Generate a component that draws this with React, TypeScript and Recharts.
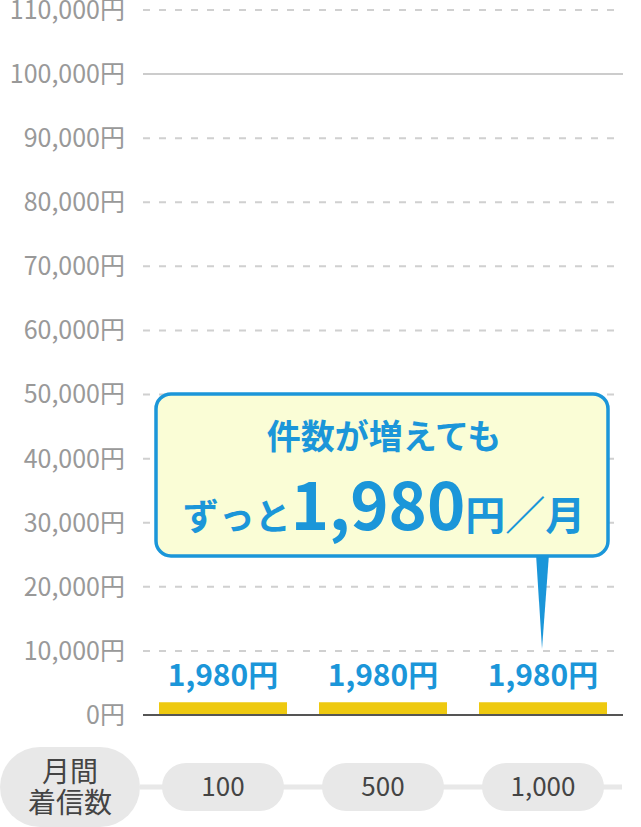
import React from 'react';
import { BarChart, Bar, XAxis, YAxis, CartesianGrid, ReferenceLine, ReferenceDot } from 'recharts';

const categories = ['100', '500', '1,000'];
const prices = [1980, 1980, 1980];
const yTicks = [0, 10000, 20000, 30000, 40000, 50000, 60000, 70000, 80000, 90000, 100000, 110000];
const calloutLine1 = '件数が増えても';
const calloutPrefix = 'ずっと';
const calloutValue = '1,980';
const calloutSuffix = '円／月';
const axisTitle = ['月間', '着信数'];
const calloutCategory = '1,000';
const calloutValueY = 10000;

const data = categories.map((c, i) => ({ name: c, price: prices[i] }));

const FONT = '"Noto Sans CJK JP", "Noto Sans", sans-serif';
const BLUE = '#1b96d9';
const YELLOW = '#eec910';
const PILL = '#e8e8e8';

const fmtYen = (v: number) => v.toLocaleString('en-US') + '円';

const XTick = (props: any) => {
  const { x, y, payload, index } = props;
  const cy = y + 72;
  return (
    <g>
      {index === 0 && (
        <line x1={140} x2={622} y1={cy} y2={cy} stroke={PILL} strokeWidth={5} />
      )}
      <rect x={x - 61} y={cy - 24} width={122} height={48} rx={24} ry={24} fill={PILL} />
      <text x={x} y={cy} dy="0.36em" textAnchor="middle" fontSize={26} fill="#444" fontFamily={FONT}>
        {payload.value}
      </text>
    </g>
  );
};

const AxisTitle = (props: any) => {
  const vb = props.viewBox || { x: 143, y: 715 };
  const cy = vb.y + 72;
  return (
    <g>
      <rect x={0} y={cy - 40} width={140} height={80} rx={40} ry={40} fill={PILL} />
      <text x={70} y={cy - 15} dy="0.36em" textAnchor="middle" fontSize={28} fill="#444" fontFamily={FONT}>
        {axisTitle[0]}
      </text>
      <text x={70} y={cy + 16} dy="0.36em" textAnchor="middle" fontSize={28} fill="#444" fontFamily={FONT}>
        {axisTitle[1]}
      </text>
    </g>
  );
};

const BarLabel = (props: any) => {
  const { x, y, width, value } = props;
  return (
    <text x={x + width / 2} y={y - 16} textAnchor="middle" fontSize={30} fontWeight={700} fill={BLUE} fontFamily={FONT}>
      {fmtYen(value)}
    </text>
  );
};

const Callout = (props: any) => {
  const { cx, cy } = props;
  const left = cx - 387;
  const right = cx + 65;
  const top = cy - 257;
  const bottom = cy - 95;
  const mid = (left + right) / 2 + 2;
  return (
    <g>
      <path d={`M${cx - 7},${bottom - 2} L${cx + 6},${bottom - 2} L${cx - 1},${cy - 2} Z`} fill={BLUE} />
      <rect x={left} y={top} width={right - left} height={bottom - top} rx={15} ry={15} fill="#fafdd6" stroke={BLUE} strokeWidth={3.5} />
      <text x={mid} y={top + 55} textAnchor="middle" fontSize={34} fontWeight={700} fill={BLUE} fontFamily={FONT}>
        {calloutLine1}
      </text>
      <text x={mid} y={top + 136} textAnchor="middle" fontWeight={700} fill={BLUE} fontFamily={FONT}>
        <tspan fontSize={36}>{calloutPrefix}</tspan>
        <tspan fontSize={65}>{calloutValue}</tspan>
        <tspan fontSize={40}>{calloutSuffix}</tspan>
      </text>
    </g>
  );
};

export default function App() {
  return (
    <div style={{ position: 'absolute', left: 0, top: 0, width: 641, height: 827 }}>
      <BarChart width={641} height={827} data={data} margin={{ top: 10, right: 18, left: 0, bottom: 0 }} barCategoryGap="10%">
        <CartesianGrid vertical={false} stroke="#d0d0d0" strokeWidth={2} strokeDasharray="7 9" />
        <ReferenceLine y={100000} stroke="#cccccc" strokeWidth={2} />
        <YAxis
          width={143}
          domain={[0, 110000]}
          ticks={yTicks}
          interval={0}
          tickFormatter={fmtYen}
          axisLine={false}
          tickLine={false}
          tickMargin={12}
          tick={{ fontSize: 25, fill: '#999999', fontFamily: FONT }}
        />
        <XAxis
          dataKey="name"
          height={112}
          tickSize={0}
          tickMargin={0}
          tickLine={false}
          axisLine={{ stroke: '#555555', strokeWidth: 2 }}
          tick={<XTick />}
          label={{ content: <AxisTitle /> } as any}
        />
        <Bar dataKey="price" fill={YELLOW} isAnimationActive={false} label={<BarLabel />} />
        <ReferenceDot x={calloutCategory} y={calloutValueY} r={0} shape={(p: any) => <Callout {...p} />} />
      </BarChart>
    </div>
  );
}
